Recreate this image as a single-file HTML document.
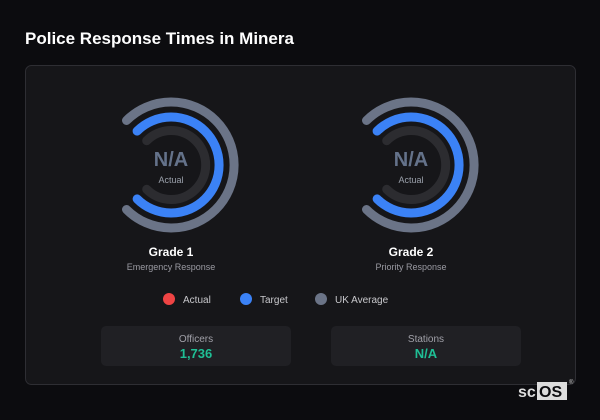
<!DOCTYPE html>
<html><head><style>
body{margin:0;background:#0c0c0f;}
svg{display:block;font-family:"Liberation Sans",sans-serif;}
</style></head><body>
<svg width="600" height="420" viewBox="0 0 600 420">
<rect width="600" height="420" fill="#0c0c0f"/>
<text x="25" y="44" font-size="17" font-weight="bold" fill="#fff">Police Response Times in Minera</text>
<rect x="25.5" y="65.5" width="550" height="319" rx="6" fill="#161619" stroke="#2e2e33"/>
<g id="g1" fill="none" stroke-linecap="round" stroke-width="9">
<path d="M126.5 120.5 A63 63 0 1 1 126.5 209.5" stroke="#6b7487"/>
<path d="M137.1 131.1 A48 48 0 1 1 137.1 198.9" stroke="#3b82f6"/>
<path d="M146.7 140.7 A34.5 34.5 0 1 1 146.7 189.3" stroke="#2c2c30"/>
</g>
<g fill="none" stroke-linecap="round" stroke-width="9" transform="translate(240,0)">
<path d="M126.5 120.5 A63 63 0 1 1 126.5 209.5" stroke="#6b7487"/>
<path d="M137.1 131.1 A48 48 0 1 1 137.1 198.9" stroke="#3b82f6"/>
<path d="M146.7 140.7 A34.5 34.5 0 1 1 146.7 189.3" stroke="#2c2c30"/>
</g>
<g text-anchor="middle">
<text x="171" y="166" font-size="20" font-weight="bold" fill="#64728a">N/A</text>
<text x="171" y="183" font-size="9" fill="#9aa0aa">Actual</text>
<text x="171" y="256" font-size="12" font-weight="bold" fill="#fff">Grade 1</text>
<text x="171" y="270" font-size="9" fill="#9a9aa2">Emergency Response</text>
<text x="411" y="166" font-size="20" font-weight="bold" fill="#64728a">N/A</text>
<text x="411" y="183" font-size="9" fill="#9aa0aa">Actual</text>
<text x="411" y="256" font-size="12" font-weight="bold" fill="#fff">Grade 2</text>
<text x="411" y="270" font-size="9" fill="#9a9aa2">Priority Response</text>
</g>
<circle cx="169" cy="299" r="6" fill="#ef4444"/>
<text x="183" y="303" font-size="10" fill="#c8c8cc">Actual</text>
<circle cx="246" cy="299" r="6" fill="#3b82f6"/>
<text x="260" y="303" font-size="10" fill="#c8c8cc">Target</text>
<circle cx="321" cy="299" r="6" fill="#6b7487"/>
<text x="335" y="303" font-size="10" fill="#c8c8cc">UK Average</text>
<rect x="101" y="326" width="190" height="40" rx="5" fill="#202024"/>
<rect x="331" y="326" width="190" height="40" rx="5" fill="#202024"/>
<g text-anchor="middle">
<text x="196" y="342" font-size="10" fill="#a0a0a8">Officers</text>
<text x="196" y="358" font-size="13" font-weight="bold" fill="#1fbf95">1,736</text>
<text x="426" y="342" font-size="10" fill="#a0a0a8">Stations</text>
<text x="426" y="358" font-size="13" font-weight="bold" fill="#1fbf95">N/A</text>
</g>
<text x="518" y="397" font-size="16" font-weight="bold" fill="#ddd">sc</text>
<rect x="537" y="382" width="30" height="18" fill="#ddd"/>
<text x="539" y="397" font-size="16" font-weight="bold" fill="#0c0c0f">OS</text>
<text x="569" y="384" font-size="6" fill="#ccc">®</text>
</svg>
</body></html>
